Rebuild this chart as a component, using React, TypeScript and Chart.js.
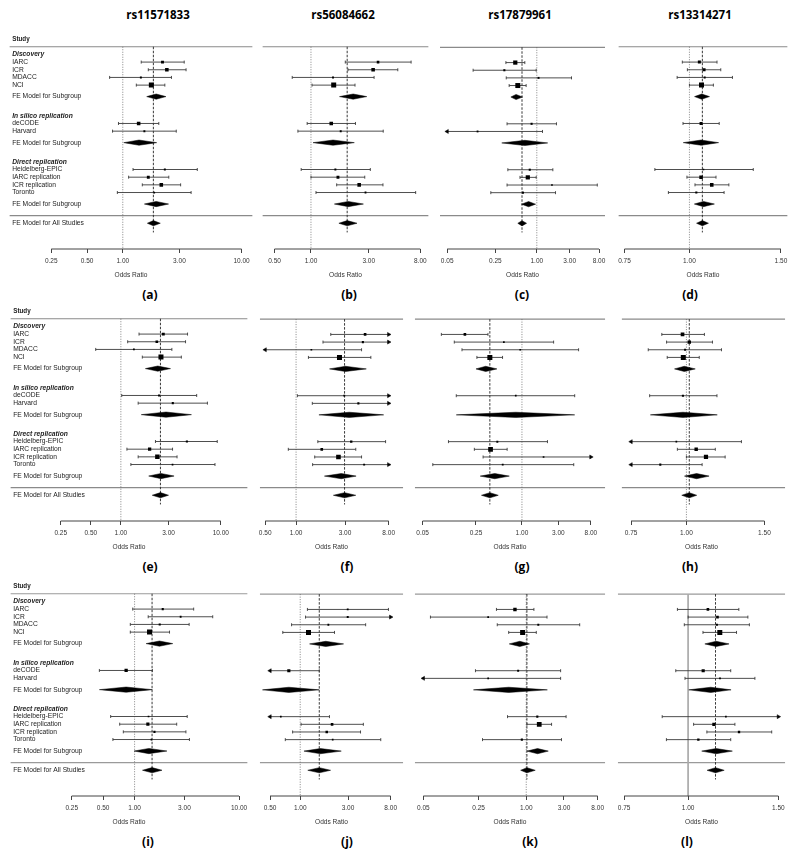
import React, { useEffect, useRef } from 'react';
import { Chart, registerables } from 'chart.js';

Chart.register(...registerables);

// ---------------- text ----------------
const SNP_TITLES = ['rs11571833', 'rs56084662', 'rs17879961', 'rs13314271'];
const PANEL_LETTERS = ['(a)', '(b)', '(c)', '(d)', '(e)', '(f)', '(g)', '(h)', '(i)', '(j)', '(k)', '(l)'];
const STUDIES = ['IARC', 'ICR', 'MDACC', 'NCI', 'deCODE', 'Harvard', 'Heidelberg-EPIC', 'IARC replication', 'ICR replication', 'Toronto'];
const STUDY_GROUP = [0, 0, 0, 0, 1, 1, 2, 2, 2, 2];
const GROUPS = ['Discovery', 'In silico replication', 'Direct replication'];
const SUBGROUP_LABEL = 'FE Model for Subgroup';
const OVERALL_LABEL = 'FE Model for All Studies';
const HEADER_LABEL = 'Study';
const AXIS_TITLE = 'Odds Ratio';

// ---------------- axis ticks per column ----------------
const TICKS_COL1 = [0.25, 0.5, 1, 3, 10];
const TICKS_COL2 = [0.5, 1, 3, 8];
const TICKS_COL3 = [0.05, 0.25, 1, 3, 8];
const TICKS_COL4 = [0.75, 1, 1.5];

// ---------------- panel data (odds ratios, 95% CI, weights) ----------------
// (a) rs11571833
const A_OR = [2.16, 2.35, 1.42, 1.74, 1.36, 1.52, 2.26, 1.64, 2.11, 1.84];
const A_LO = [1.43, 1.64, 0.775, 1.30, 0.92, 0.82, 1.22, 1.12, 1.46, 0.90];
const A_HI = [3.29, 3.41, 2.57, 2.26, 2.01, 2.82, 4.24, 2.44, 3.07, 3.76];
const A_W = [12, 17, 5, 28, 17, 5, 5, 12, 17, 3];
const A_SUB = [[1.91, 1.59, 2.31], [1.37, 1.02, 1.93], [1.91, 1.52, 2.43]];
const A_ALL = [1.81, 1.61, 2.07];
// (b) rs56084662
const B_OR = [3.58, 3.26, 1.52, 1.54, 1.47, 1.76, 1.59, 1.67, 2.50, 2.82];
const B_LO = [1.92, 2.02, 0.70, 1.02, 0.93, 0.78, 0.83, 1.00, 1.63, 1.10];
const B_HI = [6.71, 5.21, 3.32, 2.31, 2.33, 3.95, 3.09, 2.78, 3.93, 7.32];
const B_W = [10, 17, 5, 28, 17, 5, 5, 12, 17, 4];
const B_SUB = [[2.23, 1.72, 2.89], [1.52, 1.04, 2.28], [2.03, 1.56, 2.71]];
const B_ALL = [1.99, 1.70, 2.40];
// (c) rs17879961
const C_OR = [0.487, 0.338, 1.06, 0.53, 0.84, 0.138, 0.79, 0.74, 1.66, 0.63];
const C_LO = [0.356, 0.119, 0.36, 0.397, 0.37, 0.016, 0.38, 0.57, 0.37, 0.215];
const C_HI = [0.67, 0.98, 3.19, 0.70, 1.93, 1.21, 1.71, 0.98, 7.55, 1.87];
const C_W = [22, 6, 5, 28, 6, 4, 6, 22, 3, 6];
const C_SUB = [[0.50, 0.42, 0.62], [0.67, 0.31, 1.44], [0.76, 0.60, 0.96]];
const C_ALL = [0.61, 0.53, 0.71];
// (d) rs13314271
const D_OR = [1.045, 1.067, 1.07, 1.055, 1.053, null, 1.064, 1.053, 1.104, 1.031];
const D_LO = [0.969, 0.991, 0.947, 1.00, 0.972, null, 0.858, 0.989, 1.025, 0.911];
const D_HI = [1.13, 1.149, 1.21, 1.112, 1.141, null, 1.327, 1.125, 1.191, 1.166];
const D_W = [13, 13, 5, 28, 13, null, 3, 17, 17, 6];
const D_SUB = [[1.056, 1.023, 1.093], [1.053, 0.973, 1.138], [1.064, 1.022, 1.117]];
const D_ALL = [1.059, 1.032, 1.088];
// (e)
const E_OR = [2.66, 2.29, 1.35, 2.52, 2.41, 3.31, 4.58, 1.94, 2.32, 3.29];
const E_LO = [1.52, 1.17, 0.56, 1.64, 1.02, 1.49, 2.22, 1.15, 1.49, 1.26];
const E_HI = [4.65, 4.44, 3.24, 4.03, 5.74, 7.35, 9.22, 3.29, 3.65, 8.75];
const E_W = [12, 10, 4, 28, 5, 6, 6, 15, 24, 3];
const E_SUB = [[2.34, 1.76, 3.14], [2.83, 1.60, 5.09], [2.52, 1.90, 3.41]];
const E_ALL = [2.49, 2.06, 3.00];
// (f)
const F_OR = [4.71, 4.48, 1.41, 2.65, 2.95, 4.05, 3.45, 1.78, 2.59, 4.61];
const F_LO = [2.18, 1.83, 0.45, 1.32, 1.03, 1.44, 1.63, 0.84, 1.52, 1.45];
const F_HI = [10.2, 11.0, 4.35, 5.36, 8.5, 11.4, 7.46, 3.82, 4.35, 14.6];
const F_W = [10, 6, 3, 28, 4, 6, 8, 10, 25, 5];
const F_SUB = [[3.03, 2.12, 4.84], [3.3, 1.67, 7.15], [2.76, 1.89, 3.85]];
const F_ALL = [2.97, 2.31, 3.82];
// (g)
const G_OR = [0.179, 0.58, 0.95, 0.38, 0.83, null, 0.476, 0.388, 1.92, 0.56];
const G_LO = [0.088, 0.13, 0.164, 0.257, 0.138, null, 0.109, 0.238, 0.31, 0.068];
const G_HI = [0.359, 2.60, 5.52, 0.557, 4.91, null, 2.16, 0.64, 11.9, 4.77];
const G_W = [10, 3, 3, 28, 3, null, 5, 26, 3, 4];
const G_SUB = [[0.335, 0.25, 0.47], [0.83, 0.138, 4.91], [0.44, 0.284, 0.683]];
const G_ALL = [0.38, 0.295, 0.49];
// (h)
const H_OR = [0.98, 1.015, 0.993, 0.984, 0.982, null, 0.949, 1.052, 1.107, 0.873];
const H_LO = [0.88, 0.902, 0.82, 0.905, 0.826, null, 0.677, 0.954, 1.00, 0.70];
const H_HI = [1.098, 1.145, 1.20, 1.069, 1.172, null, 1.331, 1.162, 1.223, 1.085];
const H_W = [18, 16, 5, 28, 6, null, 3, 16, 22, 6];
const H_SUB = [[0.989, 0.94, 1.047], [0.982, 0.829, 1.174], [1.054, 0.99, 1.125]];
const H_ALL = [1.015, 0.976, 1.055];
// (i)
const I_OR = [1.86, 2.76, 1.74, 1.39, 0.83, null, 1.36, 1.34, 1.55, 1.45];
const I_LO = [0.96, 1.35, 0.91, 0.91, 0.46, null, 0.59, 0.72, 0.78, 0.62];
const I_HI = [3.68, 5.60, 3.33, 2.16, 1.48, null, 3.19, 2.53, 3.10, 3.35];
const I_W = [6, 4, 6, 28, 15, null, 3, 14, 6, 3];
const I_SUB = [[1.73, 1.29, 2.32], [0.83, 0.46, 1.48], [1.37, 0.99, 2.04]];
const I_ALL = [1.47, 1.19, 1.83];
// (j)
const J_OR = [2.98, 2.98, 1.91, 1.21, 0.77, null, 0.64, 2.08, 1.84, 2.11];
const J_LO = [1.18, 1.13, 0.82, 0.67, 0.42, null, 0.35, 1.02, 0.84, 0.71];
const J_HI = [7.60, 8.6, 4.50, 2.20, 1.55, null, 1.96, 4.27, 4.00, 6.37];
const J_W = [4, 5, 4, 28, 14, null, 3, 10, 9, 3];
const J_SUB = [[1.80, 1.24, 2.71], [0.77, 0.42, 1.55], [1.59, 1.09, 2.57]];
const J_ALL = [1.55, 1.19, 2.01];
// (k)
const K_OR = [0.72, 0.33, 1.42, 0.90, 0.79, 0.33, 1.38, 1.46, null, 0.88];
const K_LO = [0.42, 0.0615, 0.43, 0.60, 0.228, 0.035, 0.58, 1.02, null, 0.28];
const K_HI = [1.25, 1.83, 4.74, 1.34, 2.72, 2.72, 3.19, 2.09, null, 2.79];
const K_W = [16, 3, 5, 28, 5, 3, 6, 26, null, 6];
const K_SUB = [[0.83, 0.61, 1.10], [0.60, 0.215, 1.85], [1.39, 1.02, 1.90]];
const K_ALL = [1.02, 0.85, 1.30];
// (l)
const L_OR = [1.093, 1.141, 1.138, 1.153, 1.07, 1.154, 1.185, 1.123, 1.257, 1.047];
const L_LO = [0.953, 1.00, 0.983, 1.069, 0.946, 0.986, 0.89, 1.025, 1.088, 0.907];
const L_HI = [1.256, 1.308, 1.317, 1.243, 1.211, 1.35, 1.58, 1.234, 1.456, 1.211];
const L_W = [10, 10, 6, 28, 14, 4, 3, 15, 8, 8];
const L_SUB = [[1.134, 1.078, 1.202], [1.107, 1.003, 1.213], [1.134, 1.063, 1.22]];
const L_ALL = [1.131, 1.089, 1.176];

// x-axis limits (odds-ratio units at the plot's left / right edge)
const XLIMS = [
  [0.111, 12.39], [0.397, 9.36], [0.0393, 9.78], [0.730, 1.545],
  [0.0784, 18.56], [0.443, 11.08], [0.0395, 12.32], [0.715, 1.671],
  [0.0647, 12.08], [0.395, 10.67], [0.039, 9.96], [0.729, 1.547],
];

const PANEL_DATA = [
  [A_OR, A_LO, A_HI, A_W, A_SUB, A_ALL],
  [B_OR, B_LO, B_HI, B_W, B_SUB, B_ALL],
  [C_OR, C_LO, C_HI, C_W, C_SUB, C_ALL],
  [D_OR, D_LO, D_HI, D_W, D_SUB, D_ALL],
  [E_OR, E_LO, E_HI, E_W, E_SUB, E_ALL],
  [F_OR, F_LO, F_HI, F_W, F_SUB, F_ALL],
  [G_OR, G_LO, G_HI, G_W, G_SUB, G_ALL],
  [H_OR, H_LO, H_HI, H_W, H_SUB, H_ALL],
  [I_OR, I_LO, I_HI, I_W, I_SUB, I_ALL],
  [J_OR, J_LO, J_HI, J_W, J_SUB, J_ALL],
  [K_OR, K_LO, K_HI, K_W, K_SUB, K_ALL],
  [L_OR, L_LO, L_HI, L_W, L_SUB, L_ALL],
];
const COL_TICKS = [TICKS_COL1, TICKS_COL2, TICKS_COL3, TICKS_COL4];

// ---------------- layout ----------------
const ROW_PX = 7.75;
const AXIS_ROW = 26.36;
const TOP_ROW = -2;
const X_AXIS_H = 34;
const CHART_H = (AXIS_ROW - TOP_ROW) * ROW_PX;
const CANVAS_H = Math.round(CHART_H + X_AXIS_H);
const HLINE_Y = [44, 316.7, 591];
const COLS_ROW1 = [[7, 255], [260, 431], [437, 608], [616, 790]];
const COLS_ROW23 = [[8, 250], [257, 406], [412, 608], [615, 788]];
const LETTER_X = [150, 349, 522, 690, 150, 347, 522, 690, 148, 347, 530, 687];
const TITLE_X = [158, 343, 520, 700];
const DIAMOND_H = 0.34;

const FONT = '"Liberation Sans", Arial, Helvetica, sans-serif';
const TEXT_COLOR = '#222';

// rows of the forest layout
function computeRows() {
  const study: number[] = [];
  const header: number[] = [];
  const sub: number[] = [];
  let r = 1;
  GROUPS.forEach((_, g) => {
    header.push(r);
    r += 1;
    STUDY_GROUP.forEach((sg, i) => {
      if (sg === g) {
        study[i] = r;
        r += 1;
      }
    });
    const s = r + 0.5;
    sub.push(s);
    r = s + 2.5;
  });
  const sep = sub[sub.length - 1] + 1.5;
  return { study, header, sub, sep, overall: sep + 1 };
}
const ROWS = computeRows();

function lineDs(data: any[], extra: any = {}) {
  return {
    type: 'line',
    data,
    borderColor: '#333',
    borderWidth: 0.9,
    pointRadius: 0,
    pointHoverRadius: 0,
    tension: 0,
    fill: false,
    ...extra,
  };
}

function buildDatasets(idx: number) {
  const [OR, LO, HI, W, SUB, ALL] = PANEL_DATA[idx] as any[];
  const ticks = COL_TICKS[idx % 4];
  const xlim = XLIMS[idx];
  const tMin = ticks[0];
  const tMax = ticks[ticks.length - 1];
  const layers: any[] = [];
  const sepColor = idx >= 8 ? '#9a9a9a' : '#8a8a8a';
  const refLine = idx === 11
    ? { borderColor: '#aaa', borderWidth: 1 }
    : { borderColor: '#666', borderWidth: 0.8, borderDash: [1, 1.5] };
  layers.push(lineDs([{ x: xlim[0], y: 0 }, { x: xlim[1], y: 0 }], { borderColor: sepColor, borderWidth: 1.2 }));
  layers.push(lineDs([{ x: xlim[0], y: ROWS.sep }, { x: xlim[1], y: ROWS.sep }], { borderColor: sepColor, borderWidth: 1.2 }));
  layers.push(lineDs([{ x: 1, y: 0 }, { x: 1, y: AXIS_ROW }], refLine));
  layers.push(lineDs([{ x: ALL[0], y: 0 }, { x: ALL[0], y: ROWS.overall + 1.2 }], { borderColor: '#222', borderWidth: 0.9, borderDash: [2.5, 1.5] }));
  layers.push(lineDs([{ x: tMin, y: AXIS_ROW }, { x: tMax, y: AXIS_ROW }], { borderColor: '#444', borderWidth: 1, clip: false }));

  const caps: any[] = [];
  const arrows: any[] = [];
  const arrowRot: number[] = [];
  const squares: any[] = [];
  const squareR: number[] = [];
  const wMax = Math.max(...W.filter((v: any) => v != null));
  STUDIES.forEach((_, i) => {
    if (OR[i] == null) return;
    const y = ROWS.study[i];
    const lo = LO[i];
    const hi = HI[i];
    layers.push(lineDs([{ x: Math.max(lo, tMin), y }, { x: Math.min(hi, tMax), y }], { borderColor: '#3a3a3a', borderWidth: 0.9 }));
    if (lo >= tMin) caps.push({ x: lo, y });
    else { arrows.push({ x: tMin, y }); arrowRot.push(-90); }
    if (hi <= tMax) caps.push({ x: hi, y });
    else { arrows.push({ x: tMax, y }); arrowRot.push(90); }
    squares.push({ x: OR[i], y });
    const side = 1.3 + 3.7 * (W[i] / wMax);
    squareR.push(side / Math.SQRT2);
  });
  layers.push({
    type: 'line', data: caps, showLine: false, pointStyle: 'line', pointRotation: 90,
    pointRadius: 1.5, pointBorderWidth: 0.9, pointBorderColor: '#3a3a3a', pointHoverRadius: 0,
  });
  layers.push({
    type: 'line', data: arrows, showLine: false, pointStyle: 'triangle', pointRotation: arrowRot,
    pointRadius: 2.3, pointBorderWidth: 0.5, pointBorderColor: '#000', pointBackgroundColor: '#000', pointHoverRadius: 0,
  });
  const diamonds = [...SUB.map((s: number[], g: number) => ({ s, r: ROWS.sub[g] })), { s: ALL, r: ROWS.overall }];
  diamonds.forEach(({ s, r }) => {
    const [est, lo, hi] = s;
    layers.push(lineDs(
      [{ x: lo, y: r }, { x: est, y: r - DIAMOND_H }, { x: hi, y: r }, { x: est, y: r + DIAMOND_H }, { x: lo, y: r }],
      { fill: 'shape', backgroundColor: '#000', borderColor: '#000', borderWidth: 0.5 },
    ));
  });
  layers.push({
    type: 'line', data: squares, showLine: false, pointStyle: 'rect', pointRadius: squareR,
    pointBorderWidth: 0, pointBackgroundColor: '#000', pointBorderColor: '#000', pointHoverRadius: 0,
  });
  return layers.reverse();
}

function labelEntries() {
  const m = new Map<number, { text: string; kind: string }>();
  m.set(-1, { text: HEADER_LABEL, kind: 'head' });
  GROUPS.forEach((g, i) => m.set(ROWS.header[i], { text: g, kind: 'group' }));
  STUDIES.forEach((s, i) => m.set(ROWS.study[i], { text: s, kind: 'study' }));
  ROWS.sub.forEach((r) => m.set(r, { text: SUBGROUP_LABEL, kind: 'study' }));
  m.set(ROWS.overall, { text: OVERALL_LABEL, kind: 'study' });
  return m;
}
const LABELS = labelEntries();

function Panel({ idx }: { idx: number }) {
  const ref = useRef<HTMLCanvasElement>(null);
  const row = Math.floor(idx / 4);
  const col = idx % 4;
  const [x0, x1] = (row === 0 ? COLS_ROW1 : COLS_ROW23)[col];
  const top = Math.round(HLINE_Y[row] + TOP_ROW * ROW_PX);
  const width = x1 - x0;
  const showLabels = col === 0;

  useEffect(() => {
    if (!ref.current) return;
    const ticks = COL_TICKS[col];
    const xlim = XLIMS[idx];
    const labelRows = Array.from(LABELS.keys());
    const chart = new Chart(ref.current, {
      type: 'line',
      data: { datasets: buildDatasets(idx) as any },
      options: {
        animation: false,
        responsive: false,
        maintainAspectRatio: false,
        devicePixelRatio: 1,
        events: [],
        layout: { padding: 0 },
        plugins: { legend: { display: false }, tooltip: { enabled: false }, title: { display: false } },
        scales: {
          x: {
            type: 'logarithmic',
            position: 'bottom',
            min: xlim[0],
            max: xlim[1],
            afterBuildTicks: (s: any) => { s.ticks = ticks.map((v) => ({ value: v })); },
            afterFit: (s: any) => { s.height = X_AXIS_H; s.paddingLeft = 0; s.paddingRight = 0; },
            ticks: {
              autoSkip: false, maxRotation: 0, minRotation: 0, padding: 4,
              color: '#333', font: { family: FONT, size: 6.5 },
              callback: (v: any) => Number(v).toFixed(2),
            },
            grid: { display: true, drawOnChartArea: false, drawTicks: true, tickLength: 4, color: '#444', lineWidth: 1 },
            border: { display: false },
            title: { display: true, text: AXIS_TITLE, color: '#333', font: { family: FONT, size: 6.6 }, padding: { top: 0, bottom: 4.3 } },
          },
          y: {
            type: 'linear',
            position: 'left',
            reverse: true,
            min: TOP_ROW,
            max: AXIS_ROW,
            display: showLabels,
            afterBuildTicks: (s: any) => { s.ticks = labelRows.map((v) => ({ value: v })); },
            afterFit: (s: any) => { s.width = 0; s.paddingTop = 0; s.paddingBottom = 0; },
            ticks: {
              mirror: true, padding: 2.8, autoSkip: false, color: TEXT_COLOR,
              callback: (v: any) => (LABELS.get(Number(v))?.text ?? ''),
              font: (ctx: any) => {
                const e = LABELS.get(ctx.tick?.value);
                if (e?.kind === 'head') return { family: FONT, size: 6.3, weight: 'bold' };
                if (e?.kind === 'group') return { family: FONT, size: 6.7, weight: 'bold', style: 'italic' };
                return { family: FONT, size: 6.7 };
              },
            },
            grid: { display: false },
            border: { display: false },
          },
        },
      } as any,
    });
    return () => chart.destroy();
  }, [idx]);

  return (
    <canvas
      ref={ref}
      width={width}
      height={CANVAS_H}
      style={{ position: 'absolute', left: x0, top, width, height: CANVAS_H }}
    />
  );
}

export default function App() {
  const textStyle: React.CSSProperties = {
    position: 'absolute',
    fontFamily: '"Open Sans", "Noto Sans", sans-serif',
    fontWeight: 700,
    color: '#000',
    transform: 'translate(-50%, -50%)',
    whiteSpace: 'nowrap',
    lineHeight: 1,
  };
  return (
    <div style={{ position: 'absolute', left: 0, top: 0, width: 800, height: 856, background: '#fff', overflow: 'hidden' }}>
      {SNP_TITLES.map((t, i) => (
        <div key={t} style={{ ...textStyle, left: TITLE_X[i], top: 15, fontSize: 11.5 }}>{t}</div>
      ))}
      {PANEL_LETTERS.map((l, i) => (
        <div
          key={l}
          style={{ ...textStyle, left: LETTER_X[i], top: HLINE_Y[Math.floor(i / 4)] + AXIS_ROW * ROW_PX + 46.5, fontSize: 12 }}
        >
          {l}
        </div>
      ))}
      {PANEL_LETTERS.map((_, i) => <Panel key={i} idx={i} />)}
    </div>
  );
}
